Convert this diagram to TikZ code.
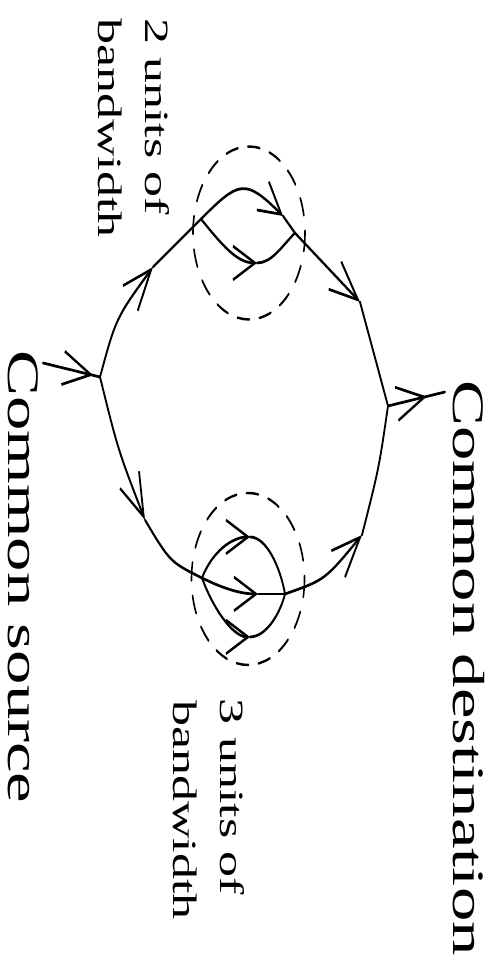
\documentclass[tikz,border=0pt]{standalone}
\usepackage{fontspec}
\setmainfont{Liberation Serif}
\usetikzlibrary{arrows.meta,decorations.markings}

\begin{document}
\begin{tikzpicture}[x=1pt,y=-1pt,line join=round,line cap=round,
		flow/.style={line width=1.8pt},
		headed/.style={-{Straight Barb[length=#1,width=22pt]}},headed/.default=28pt,
		midhead/.style={postaction={decorate,decoration={markings,mark=at position #1 with {\arrow{Straight Barb[length=28pt,width=22pt]}}}}},
		ring/.style={line width=1.6pt,dash pattern=on 12pt off 10pt},
		bigtext/.style={rotate=-90,anchor=base west,inner sep=0pt,font=\fontsize{45}{54}\selectfont},
		smalltext/.style={rotate=-90,anchor=base west,inner sep=0pt,font=\fontsize{34}{40}\selectfont}]
	\useasboundingbox (0,0) rectangle (496,962);
	\begin{scope}[transform canvas={yscale=1.53},yscale=1/1.53]
		\path \foreach \n/\x/\y in {src/100/377,dst/388/406,inS/43/363,outD/445/392,
			ua/153/267,a1/201/219,a2/295/233,ut/283/216,lt/257/263,ub/360/302,
			la/145/520,b1/202/578,b2/285/594,bt/250/537,bm/258/594,bb/250/637,lc/362/535,
			cu/249/233,cl/248/579}{
			(\x,\y) coordinate (\n)
		};
		% in and out
		\draw [flow,midhead=0.88] (inS)--(src);
		\draw [flow,midhead=0.68] (dst)--(outD);
		% upper route
		\draw [flow,headed] (src) .. controls (116,318) .. (ua);
		\draw [flow] (ua)--(a1);
		\draw [flow,headed=22pt] (a1) .. controls (239,181) and (245,178) .. (ut);
		\draw [flow] (ut)--(a2);
		\draw [flow,headed=22pt] (a1) .. controls (222,245) and (237,263) .. (lt);
		\draw [flow] (lt) .. controls (272,263) and (282,246) .. (a2);
		\draw [flow,headed] (a2)--(ub);
		\draw [flow] (ub)--(dst);
		% lower route
		\draw [flow,headed] (src) .. controls (118,450) .. (la);
		\draw [flow] (la) .. controls (170,562) .. (b1);
		\draw [flow,headed=22pt] (b1) .. controls (212,552) and (232,537) .. (bt);
		\draw [flow] (bt) .. controls (266,537) and (280,566) .. (b2);
		\draw [flow,headed=22pt] (b1) .. controls (222,588) and (240,594) .. (bm);
		\draw [flow] (bm)--(b2);
		\draw [flow,headed=22pt] (b1) .. controls (212,606) and (232,637) .. (bb);
		\draw [flow] (bb) .. controls (266,637) and (280,614) .. (b2);
		\draw [flow,headed] (b2) .. controls (325,580) .. (lc);
		\draw [flow] (lc) .. controls (379,468) .. (dst);
		% dashed rings
		\draw [ring] (cu) ellipse [x radius=56,y radius=86.5];
		\draw [ring] (cl) ellipse [x radius=56.5,y radius=86];
		% labels
		\foreach \n/\x/\y/\t in {srcLabel/9/350/Common source,dstLabel/453/380/Common destination}{
			\node [bigtext] (\n) at (\x,\y) {\t};
		}
		\foreach \n/\x/\y/\t in {upLabelA/145/18/2 units of,upLabelB/98/18/bandwidth,
			lowLabelA/220/698/3 units of,lowLabelB/173/700/bandwidth}{
			\node [smalltext] (\n) at (\x,\y) {\t};
		}
	\end{scope}
\end{tikzpicture}
\end{document}
